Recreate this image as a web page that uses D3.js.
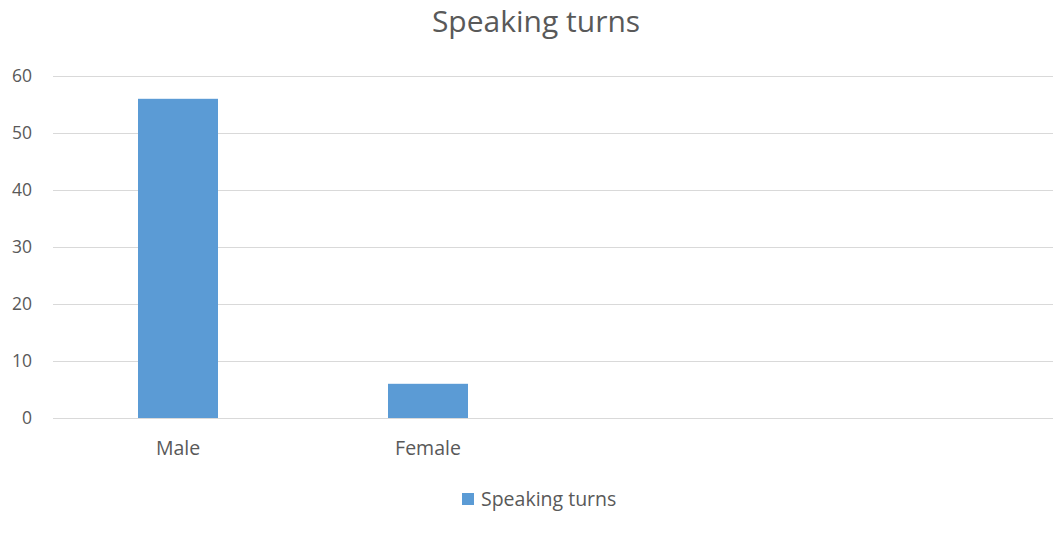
<!DOCTYPE html>
<html><head><meta charset="utf-8">
<script src="https://cdn.jsdelivr.net/npm/d3@7"></script>
<style>
html,body{margin:0;padding:0;background:#fff;}
svg{display:block;}
text{font-family:"Open Sans","Noto Sans",sans-serif;fill:#595959;}
</style></head>
<body>
<svg id="c" width="1053" height="534"></svg>
<script>
const categories = ["Male", "Female", "", ""];
const values = [56, 6, null, null];
const yTicks = [0, 10, 20, 30, 40, 50, 60];
const seriesName = "Speaking turns";
const title = "Speaking turns";

const W = 1053, H = 534;
const m = {left: 53, right: 0, top: 76, bottom: 116};
const svg = d3.select("#c");

const x = d3.scaleBand().domain(d3.range(categories.length))
  .range([m.left, W - m.right]).paddingInner(0.68).paddingOuter(0.34);
const y = d3.scaleLinear().domain([0, 60]).range([H - m.bottom, m.top]);

// gridlines
svg.append("g").selectAll("line").data(yTicks).join("line")
  .attr("x1", m.left).attr("x2", W - m.right)
  .attr("y1", d => Math.round(y(d)) + 0.5).attr("y2", d => Math.round(y(d)) + 0.5)
  .attr("stroke", "#D9D9D9").attr("stroke-width", 1);

// y labels
svg.append("g").selectAll("text").data(yTicks).join("text")
  .attr("x", 32).attr("y", d => y(d)).attr("dy", "0.35em")
  .attr("text-anchor", "end").attr("font-size", 17.5).text(d => d);

// bars
svg.append("g").selectAll("rect").data(values.map((v, i) => ({v, i})).filter(d => d.v != null)).join("rect")
  .attr("x", d => x(d.i)).attr("width", x.bandwidth())
  .attr("y", d => y(d.v)).attr("height", d => y(0) - y(d.v))
  .attr("fill", "#5B9BD5");

// category labels
svg.append("g").selectAll("text").data(categories).join("text")
  .attr("x", (d, i) => x(i) + x.bandwidth() / 2).attr("y", 455)
  .attr("text-anchor", "middle").attr("font-size", 19.5).text(d => d);

// title
svg.append("text").attr("x", 536).attr("y", 32).attr("text-anchor", "middle")
  .attr("font-size", 30).text(title);

// legend
svg.append("rect").attr("x", 462).attr("y", 493).attr("width", 12).attr("height", 12).attr("fill", "#5B9BD5");
svg.append("text").attr("x", 481).attr("y", 499).attr("dy", "0.35em").attr("font-size", 19.5).text(seriesName);
</script>
</body></html>
